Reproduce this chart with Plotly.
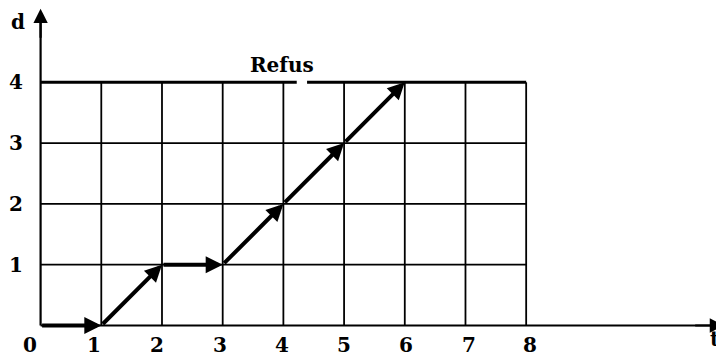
"""Diagramme d(t): progression par étapes jusqu'au refus (d = 4)."""
import plotly.graph_objects as go

# grid / axis values
t_ticks = [0, 1, 2, 3, 4, 5, 6, 7, 8]
d_ticks = [0, 1, 2, 3, 4]
t_labels = ["0", "1", "2", "3", "4", "5", "6", "7", "8"]
d_labels = ["1", "2", "3", "4"]

# path followed (arrows)
path_t = [0, 1, 2, 3, 4, 5, 6]
path_d = [0, 0, 1, 1, 2, 3, 4]

# refusal level, with the small gap in the line under the label
refus_level = 4
refus_gap = [4.22, 4.39]
refus_text = "Refus"

t_axis_end = 11.26
d_axis_end = 5.21

FONT = dict(family="DejaVu Serif", size=20, color="black", weight="bold")
# the hand-lettered tick labels are not exactly centred on their lines
t_label_shift = [-11, -7, -5, -3, -1, 0, 1, 4, 4]

fig = go.Figure()

# vertical grid lines
for t in t_ticks[1:]:
    fig.add_trace(go.Scatter(x=[t, t], y=[0, refus_level], mode="lines",
                             line=dict(color="black", width=1.8), hoverinfo="skip"))

# horizontal grid lines (except the refusal level)
for d in d_ticks[1:-1]:
    fig.add_trace(go.Scatter(x=[0, t_ticks[-1]], y=[d, d], mode="lines",
                             line=dict(color="black", width=1.8), hoverinfo="skip"))

# refusal line, in two parts
fig.add_trace(go.Scatter(x=[0, refus_gap[0], None, refus_gap[1], t_ticks[-1]],
                         y=[refus_level, refus_level, None, refus_level, refus_level],
                         mode="lines", line=dict(color="black", width=3),
                         hoverinfo="skip"))

# axes
fig.add_trace(go.Scatter(x=[0, t_axis_end - 0.1], y=[0, 0], mode="lines",
                         line=dict(color="black", width=2.2), hoverinfo="skip"))
fig.add_trace(go.Scatter(x=[0, 0], y=[0, d_axis_end - 0.1], mode="lines",
                         line=dict(color="black", width=2.2), hoverinfo="skip"))

# axis arrowheads
fig.add_annotation(x=t_axis_end, y=0, ax=t_axis_end - 0.5, ay=0, axref="x", ayref="y",
                   text="", showarrow=True, arrowhead=2, arrowsize=1.3,
                   arrowwidth=2.2, arrowcolor="black")
fig.add_annotation(x=0, y=d_axis_end, ax=0, ay=d_axis_end - 0.5, axref="x", ayref="y",
                   text="", showarrow=True, arrowhead=2, arrowsize=1.3,
                   arrowwidth=2.2, arrowcolor="black")

# path arrows
for i in range(len(path_t) - 1):
    fig.add_annotation(x=path_t[i + 1], y=path_d[i + 1], ax=path_t[i], ay=path_d[i],
                       axref="x", ayref="y", text="", showarrow=True,
                       arrowhead=2, arrowsize=0.85, arrowwidth=4, arrowcolor="black")

# tick labels
for t, lab, sh in zip(t_ticks, t_labels, t_label_shift):
    fig.add_annotation(x=t, y=-0.32, text=lab, showarrow=False, font=FONT, xshift=sh)
for d, lab in zip(d_ticks[1:], d_labels):
    fig.add_annotation(x=-0.405, y=d, text=lab, showarrow=False, font=FONT)

# axis names and label
fig.add_annotation(x=11.22, y=-0.23, text="t", showarrow=False, font=FONT,
                   xanchor="right")
fig.add_annotation(x=-0.52, y=5.215, text="d", showarrow=False, font=FONT,
                   xanchor="left", yanchor="top")
fig.add_annotation(x=3.98, y=4.28, text=refus_text, showarrow=False, font=FONT)

# the page body keeps its default 8px margin, so the ranges are set
# for a plot area that starts 8px right of and below the window corner
fig.update_layout(
    width=724, height=357,
    margin=dict(l=0, r=0, t=0, b=0),
    plot_bgcolor="white", paper_bgcolor="white",
    showlegend=False,
    xaxis=dict(range=[-0.537, 11.391], visible=False, fixedrange=True),
    yaxis=dict(range=[-0.650, 5.222], visible=False, fixedrange=True),
)

fig.write_html("out.html")
